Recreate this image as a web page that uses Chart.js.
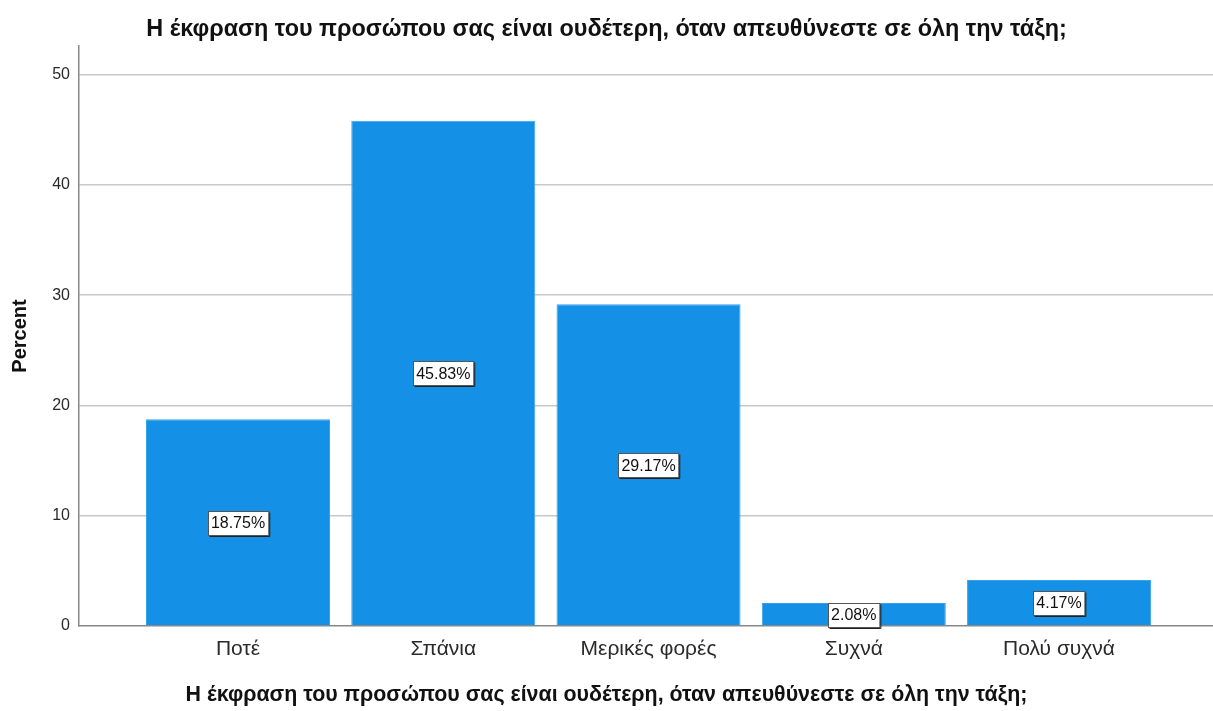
<!DOCTYPE html>
<html>
<head>
<meta charset="utf-8">
<script src="https://cdn.jsdelivr.net/npm/chart.js@4"></script>
<style>
  html, body { margin: 0; padding: 0; background: #fff; }
  #wrap { width: 1213px; height: 711px; }
</style>
</head>
<body>
<div id="wrap"><canvas id="c" width="1213" height="711"></canvas></div>
<script>
const categories = ['Ποτέ', 'Σπάνια', 'Μερικές φορές', 'Συχνά', 'Πολύ συχνά'];
const percents = [18.75, 45.83, 29.17, 2.08, 4.17];
const yTicks = [0, 10, 20, 30, 40, 50];
const titleText = 'Η έκφραση του προσώπου σας είναι ουδέτερη, όταν απευθύνεστε σε όλη την τάξη;';

const FONT = '"Liberation Sans", Arial, sans-serif';
const CAPTION_PAD = 3;

// Boxed value labels in the middle of each bar
const valueBoxes = {
  id: 'valueBoxes',
  afterDatasetsDraw(chart) {
    const ctx = chart.ctx;
    const meta = chart.getDatasetMeta(0);
    const yScale = chart.scales.y;
    ctx.save();
    ctx.font = '16px ' + FONT;
    ctx.textAlign = 'center';
    ctx.textBaseline = 'middle';
    meta.data.forEach((bar, i) => {
      const v = percents[i];
      const text = v.toFixed(2) + '%';
      const cx = bar.x;
      const cy = yScale.getPixelForValue(v / 2);
      const w = ctx.measureText(text).width + 6;
      const h = 24;
      const x0 = Math.round(cx - w / 2) + 0.5;
      const y0 = Math.round(cy - h / 2) + 0.5;
      ctx.fillStyle = '#ffffff';
      ctx.fillRect(x0, y0, w, h);
      ctx.strokeStyle = '#555555';
      ctx.lineWidth = 1;
      ctx.strokeRect(x0, y0, w, h);
      ctx.strokeStyle = '#222222';
      ctx.beginPath();
      ctx.moveTo(x0 + w + 1, y0 + 1);
      ctx.lineTo(x0 + w + 1, y0 + h + 1);
      ctx.lineTo(x0 + 1, y0 + h + 1);
      ctx.stroke();
      ctx.fillStyle = '#111111';
      ctx.fillText(text, cx, cy + 1);
    });
    ctx.restore();
  }
};

new Chart(document.getElementById('c'), {
  type: 'bar',
  data: {
    datasets: [{
      data: percents.map((v, i) => ({ x: i, y: v })),
      backgroundColor: '#1490e6',
      borderColor: '#3aa0ea',
      borderWidth: 1,
      categoryPercentage: 1,
      barPercentage: 0.8965
    }]
  },
  options: {
    responsive: false,
    animation: false,
    layout: { padding: { left: 0, right: 0, top: 0, bottom: 0 } },
    plugins: {
      legend: { display: false },
      tooltip: { enabled: false },
      title: {
        display: true,
        text: titleText,
        color: '#111',
        font: { family: FONT, size: 23.4, weight: 'bold', lineHeight: 1.2 },
        padding: { top: 15.5, bottom: 2.4 }
      },
      // category-axis caption, centred on the full canvas width
      subtitle: {
        display: true,
        position: 'bottom',
        text: titleText,
        color: '#111',
        font: { family: FONT, size: 21.4, weight: 'bold', lineHeight: 1.2 },
        padding: { top: 0, bottom: CAPTION_PAD }
      }
    },
    scales: {
      x: {
        type: 'linear',
        offset: false,
        min: -0.7747,
        max: 4.75,
        afterBuildTicks: s => { s.ticks = categories.map((_, i) => ({ value: i })); },
        afterFit: s => { s.height = 85 - (21.4 * 1.2 + CAPTION_PAD); },
        ticks: {
          callback: v => categories[v],
          color: '#2a2a2a',
          font: { family: FONT, size: 21 },
          padding: 11,
          maxRotation: 0,
          autoSkip: false
        },
        grid: { display: false, drawTicks: false, offset: false },
        border: { color: '#888', width: 1.5 }
      },
      y: {
        min: 0,
        max: 52.6,
        afterBuildTicks: s => { s.ticks = yTicks.map(v => ({ value: v })); },
        afterFit: s => { s.width = 79; },
        ticks: {
          color: '#2a2a2a',
          font: { family: FONT, size: 16 },
          padding: 9
        },
        grid: {
          color: ctx => ctx.tick && ctx.tick.value === 0 ? 'rgba(0,0,0,0)' : '#c8c8c8',
          lineWidth: 1.5,
          drawTicks: false
        },
        border: { color: '#888', width: 1.5 },
        title: {
          display: true,
          text: 'Percent',
          color: '#111',
          font: { family: FONT, size: 20, weight: 'bold' },
          padding: { top: 8, bottom: 2 }
        }
      }
    }
  },
  plugins: [valueBoxes]
});
</script>
</body>
</html>
